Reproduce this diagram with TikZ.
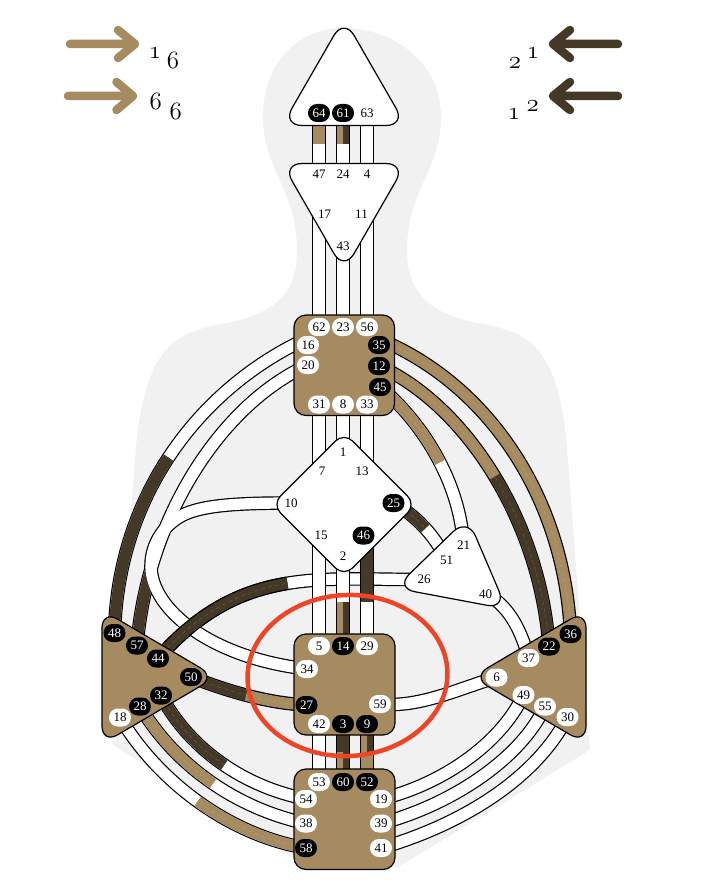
\documentclass[tikz,border=0pt]{standalone}
\usepackage{fontspec}
\setmainfont{Liberation Serif}
\usetikzlibrary{shapes.geometric,calc}
\definecolor{tan}{HTML}{A68A60}
\definecolor{darkb}{HTML}{443826}
\definecolor{body}{HTML}{F1F1F1}
\definecolor{redl}{HTML}{EE4527}
\pgfdeclarelayer{behind}
\pgfsetlayers{behind,main}
\tikzset{
  gatew/.style={rectangle,rounded corners=8.9pt,fill=white,text=black,minimum width=22pt,minimum height=18pt,inner sep=0pt,font=\fontsize{13}{13}\selectfont},
  gateb/.style={gatew,fill=black,text=white},
  centerw/.style={draw=black,line width=1.2pt,fill=white,line join=round},
  centert/.style={draw=black,line width=1.2pt,fill=tan,rounded corners=12pt},
  chanout/.style={draw=black,line width=13.6pt},
  chanin/.style={draw=white,line width=11.2pt},
  seam/.style={draw=white,draw opacity=.25,line width=.3pt,dash pattern=on 4pt off 3pt},
  arrowt/.style={draw=tan,line width=8.5pt,line cap=round,line join=round},
  arrowd/.style={draw=darkb,line width=8.5pt,line cap=round,line join=round},
  legend/.style={inner sep=0pt,font=\usefont{OML}{cmm}{m}{it}\fontsize{26}{26}\selectfont}
}
\newcommand{\ChanW}[1]{\draw[chanout] #1; \draw[chanin] #1;}
% base colour, over colour, length of over colour from the path start, path
\newcommand{\ChanTwo}[4]{\draw[chanout] #4; \draw[chanin,draw=#1] #4;
  \draw[chanin,draw=#2,dash pattern=on #3pt off 3000pt] #4; \draw[seam] #4;}
\newcommand{\LoopPath}{(g10.center) .. controls (240,503) and (205,505) .. (185,514) .. controls (165,523) and (151,543) .. (151,566) .. controls (151,610) and (212,658) .. (g34.center)}
\begin{document}
\begin{tikzpicture}[x=1pt,y=-1pt]
\useasboundingbox (0,0) rectangle (702,888);
% centres
\draw[centerw,rounded corners=20pt] (344,18) -- (406,125.5) -- (282,125.5) -- cycle;
\draw[centerw,rounded corners=20pt] (282,163.5) -- (406,163.5) -- (344,271) -- cycle;
\draw[centert] (294,315) rectangle (394.5,415.5);
\draw[centerw,rounded corners=12pt] (344,432.5) -- (416,504.5) -- (344,576.5) -- (272,504.5) -- cycle;
\draw[centerw,rounded corners=20pt] (467.6,517.6) -- (506.7,609) -- (395,588) -- cycle;
\draw[centert,rounded corners=18pt] (102,610) -- (216,677) -- (102,744) -- cycle;
\draw[centert,rounded corners=18pt] (586,610) -- (586,744) -- (472,677) -- cycle;
\draw[centert] (294,634) rectangle (395,735);
\draw[centert] (294,769) rectangle (395,869.5);
% gates
\foreach \g/\x/\y in {63/367/113,47/319/174,24/343/174,4/367/174,17/324.5/214,11/361.5/214,43/343/246,
 62/319/327,23/343/327,56/367/327,16/308/345,20/308/365,31/319/404.5,8/343/404.5,33/367/404.5,
 1/343/452.5,7/322/471.5,13/362/471.5,10/291/503,15/321/535.5,2/343/556,
 21/463.5/545.5,51/446.5/560.5,26/424/579.5,40/485.7/594,
 18/120/717.5,5/319/646,29/367/646,34/307/669,59/380/704,42/319/724,
 53/319/782,54/306/799,19/381/799,38/306/823.5,39/381/823.5,41/381/848,
 37/528.5/658,6/496.5/677.5,49/523.5/695,55/545/706.5,30/567.5/717}
  {\node[gatew] (g\g) at (\x,\y) {\g};}
\foreach \g/\x/\y in {64/319/113,61/343/113,35/379/345,12/379/366,45/380/387,25/393.5/503,46/363.5/535.5,
 48/114.5/633,57/137/645.5,44/158/658.5,50/191/677,32/161/695.5,28/140/706.5,
 14/343/646,27/306.5/705,3/343/724,9/367/724,60/343/782,52/367/782,58/306/848,
 36/570.5/634,22/549/646.5}
  {\node[gateb] (g\g) at (\x,\y) {\g};}
% transition points on the straight channels
\coordinate (m64) at (319,144);
\coordinate (m61) at (343,144);
\coordinate (m14) at (343,602);
\coordinate (m46) at (367,602);
\coordinate (m3) at (343,752);
\coordinate (m9) at (367,752);
\begin{pgfonlayer}{behind}
\fill[body] (344,28) .. controls (300,28) and (263,60) .. (263,117)
  .. controls (263,170) and (297,190) .. (297,250)
  .. controls (297,290) and (280,312) .. (227,323)
  .. controls (175,332) and (143,345) .. (135,460)
  -- (113,745) -- (293,858) -- (397,868) -- (590,750) -- (568,460)
  .. controls (560,345) and (530,332) .. (477,323)
  .. controls (425,312) and (407,290) .. (407,250)
  .. controls (407,190) and (441,170) .. (441,117)
  .. controls (441,60) and (390,28) .. (344,28) -- cycle;
% straight channels
\ChanW{(g64.center) -- (g47.center)}
\ChanW{(g61.center) -- (g24.center)}
\ChanW{(g63.center) -- (g4.center)}
\ChanW{(g62.center |- g17.center) -- (g62.center)}
\ChanW{(g43.center) -- (g23.center)}
\ChanW{(g56.center |- g11.center) -- (g56.center)}
\ChanW{(g31.center) -- (g31.center |- g7.center)}
\ChanW{(g8.center) -- (g1.center)}
\ChanW{(g33.center) -- (g33.center |- g13.center)}
% the crossing channel passes under the G to sacral channels
\draw[chanout] (g26.center) .. controls (320,580) and (240,565) .. (g44.center);
\draw[chanin] (g26.center) .. controls (320,580) and (240,565) .. (g44.center);
\ChanW{(g5.center |- g15.center) -- (g5.center)}
\ChanW{(g2.center) -- (g14.center)}
\ChanW{(g29.center |- g46.center) -- (g29.center)}
\ChanW{(g42.center) -- (g53.center)}
\ChanW{(g3.center) -- (g60.center)}
\ChanW{(g9.center) -- (g52.center)}
% coloured parts of straight channels
\draw[tan,line width=11.2pt] (g64.center) -- (m64);
\draw[tan,line width=5.6pt] ([xshift=-2.8pt]g61.center) -- ([xshift=-2.8pt]m61);
\draw[darkb,line width=5.6pt] ([xshift=2.8pt]g61.center) -- ([xshift=2.8pt]m61);
\draw[tan,line width=5.6pt] ([xshift=-2.8pt]g14.center) -- ([xshift=-2.8pt]m14);
\draw[darkb,line width=5.6pt] ([xshift=2.8pt]g14.center) -- ([xshift=2.8pt]m14);
\draw[darkb,line width=11.2pt] (g29.center |- g46.center) -- (m46);
\draw[darkb,line width=11.2pt] (g3.center) -- (m3);
\draw[tan,line width=5.6pt] ([xshift=-2.8pt]g60.center) -- ([xshift=-2.8pt]m3);
\draw[darkb,line width=5.6pt] ([xshift=2.8pt]g60.center) -- ([xshift=2.8pt]m3);
\draw[tan,line width=11.2pt] (g52.center) -- (m9);
\draw[tan,line width=5.6pt] ([xshift=-2.8pt]g9.center) -- ([xshift=-2.8pt]m9);
\draw[darkb,line width=5.6pt] ([xshift=2.8pt]g9.center) -- ([xshift=2.8pt]m9);
% throat to solar plexus and heart
\ChanTwo{tan}{tan}{0}{([yshift=6pt]g35.center) .. controls (490,385) and (565,500) .. (g36.center)}
\ChanTwo{tan}{darkb}{180}{(g22.center) .. controls (540,520) and (465,405) .. (g12.center)}
\ChanTwo{white}{tan}{97}{(g45.center) .. controls (420,420) and (460,480) .. (g21.center)}
\ChanTwo{white}{darkb}{41}{(g25.center) .. controls (415,515) and (435,535) .. (g51.center)}
% throat to spleen group, with merged outlines
\draw[chanout] ([yshift=7pt]g16.center) .. controls (205,385) and (118,490) .. (g48.center);
\draw[chanout] (g57.center) .. controls (147,520) and (220,405) .. (g20.center);
\draw[chanout] \LoopPath;
\draw[chanin] ([yshift=7pt]g16.center) .. controls (205,385) and (118,490) .. (g48.center);
\draw[chanin,draw=darkb,dash pattern=on 186pt off 3000pt] (g48.center) .. controls (118,490) and (205,385) .. ([yshift=7pt]g16.center);
\draw[chanin] (g57.center) .. controls (147,520) and (220,405) .. (g20.center);
\draw[chanin,draw=darkb,dash pattern=on 79pt off 3000pt] (g57.center) .. controls (147,520) and (220,405) .. (g20.center);
\draw[chanin] \LoopPath;
% dark part of the crossing channel lies over the loop
\draw[chanout,dash pattern=on 153pt off 3000pt] (g44.center) .. controls (240,565) and (320,580) .. (g26.center);
\draw[chanin,draw=darkb,dash pattern=on 153pt off 3000pt] (g44.center) .. controls (240,565) and (320,580) .. (g26.center);
\begin{scope}
\clip (0,0) rectangle (300,888);
\draw[seam] (g44.center) .. controls (240,565) and (320,580) .. (g26.center);
\end{scope}
% other
\ChanTwo{tan}{darkb}{58}{(g50.center) .. controls (225,690) and (265,703) .. (g27.center)}
\ChanW{(g59.center) .. controls (420,708) and (460,688) .. (g6.center)}
\ChanW{(g40.center) .. controls (505,603) and (520,625) .. (g37.center)}
% root to spleen
\ChanTwo{white}{darkb}{95}{(g32.center) .. controls (190,750) and (245,787) .. (g54.center)}
\ChanTwo{white}{tan}{107}{(g28.center) .. controls (175,765) and (235,808) .. (g38.center)}
\ChanTwo{white}{tan}{119}{(g58.center) .. controls (228,835) and (157,780) .. (g18.center)}
% root to solar plexus
\ChanW{(g19.center) .. controls (440,785) and (500,745) .. (g49.center)}
\ChanW{(g39.center) .. controls (450,805) and (520,760) .. (g55.center)}
\ChanW{(g41.center) .. controls (460,825) and (535,780) .. (g30.center)}
\end{pgfonlayer}
% legend
\draw[arrowt] (70,44) -- (135,44) (118,30) -- (135,44) -- (118,58);
\draw[arrowt] (68,96) -- (133,96) (116.5,82) -- (133,96) -- (116.5,110);
\draw[arrowd] (618,44) -- (553,44) (570,30) -- (553,44) -- (570,58);
\draw[arrowd] (618,96) -- (553,96) (570,82) -- (553,96) -- (570,110);
\node[legend] (la) at (155,53) {1};
\node[legend] (lb) at (173,60) {6};
\node[legend] (lc) at (155.7,101.7) {6};
\node[legend] (ld) at (175.7,111.7) {6};
\node[legend] (le) at (515,62.7) {2};
\node[legend] (lf) at (533,53) {1};
\node[legend] (lg) at (514,114) {1};
\node[legend] (lh) at (532.7,105.7) {2};
% highlight
\draw[redl,line width=4.5pt,rotate around={3:(347.5,675.5)}] (347.5,675.5) ellipse [x radius=100,y radius=80.5];
\end{tikzpicture}
\end{document}
